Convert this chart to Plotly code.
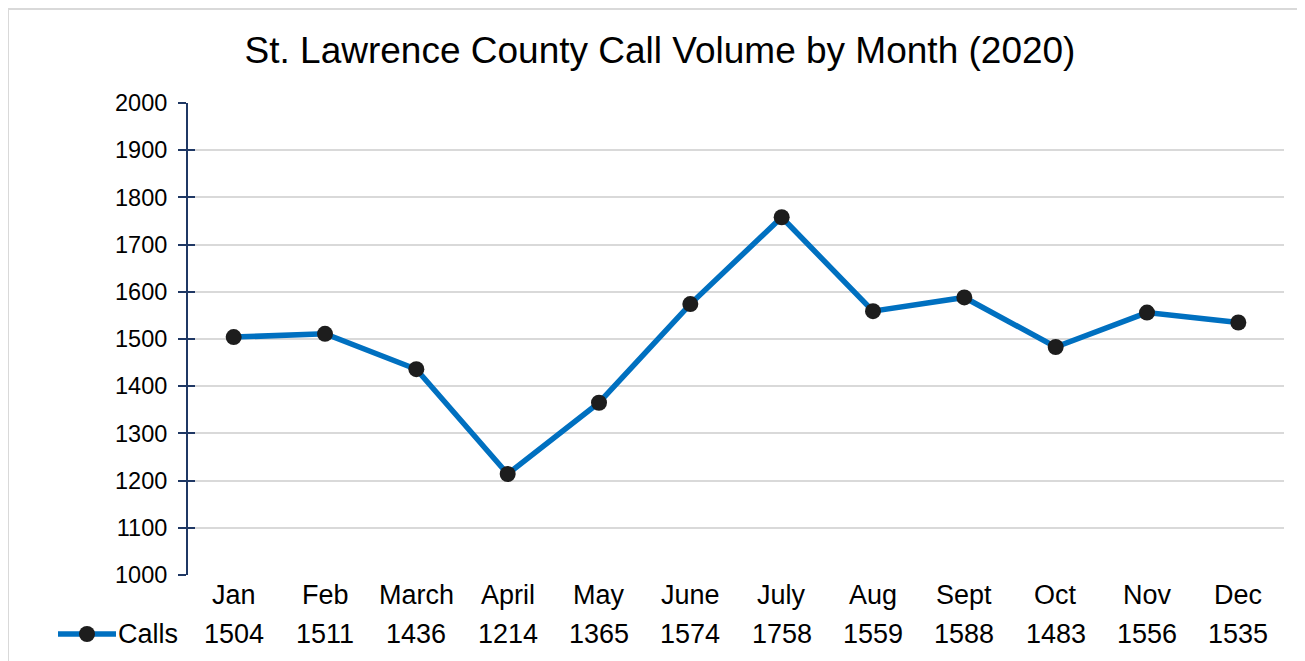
import plotly.graph_objects as go

months = ["Jan", "Feb", "March", "April", "May", "June", "July", "Aug", "Sept", "Oct", "Nov", "Dec"]
calls = [1504, 1511, 1436, 1214, 1365, 1574, 1758, 1559, 1588, 1483, 1556, 1535]
series_name = "Calls"
title_text = "St. Lawrence County Call Volume by Month (2020)"
y_ticks = list(range(1000, 2001, 100))

OFF = 8  # page body margin
W, H = 1297, 653
# plot area in page pixels: x 188..1284, y 103..575
L = 188 - OFF
T = 103 - OFF
R = W - (1284 - OFF)
B = H - (575 - OFF)
pw, ph = W - L - R, H - T - B

def px_x(p):  # page pixel -> paper x
    return (p - OFF - L) / pw

def px_y(p):  # page pixel -> paper y
    return (H - B - (p - OFF)) / ph

FONT = "Arial, Liberation Sans, sans-serif"
TBL = 27
LINE_COLOR = "#0070C0"
MARK_COLOR = "#1d1d1d"

fig = go.Figure()
fig.add_trace(go.Scatter(
    x=months, y=calls, mode="lines+markers", name=series_name,
    line=dict(color=LINE_COLOR, width=5.5),
    marker=dict(color=MARK_COLOR, size=16),
    showlegend=False,
))
# invisible trace on overlay axis to give crossing ticks
fig.add_trace(go.Scatter(x=months, y=calls, yaxis="y2", mode="lines",
                         line=dict(width=0), hoverinfo="skip", showlegend=False, opacity=0))

annotations = []
for m, v in zip(months, calls):
    annotations.append(dict(x=m, xref="x", y=px_y(595), yref="paper", text=m,
                            showarrow=False, font=dict(size=TBL, color="#000", family=FONT),
                            xanchor="center", yanchor="middle"))
    annotations.append(dict(x=m, xref="x", y=px_y(634), yref="paper", text=str(v),
                            showarrow=False, font=dict(size=TBL, color="#000", family=FONT),
                            xanchor="center", yanchor="middle"))
# data-table legend key label
annotations.append(dict(x=px_x(116), xref="paper", y=px_y(634), yref="paper", text=series_name,
                        showarrow=False, font=dict(size=TBL, color="#000", family=FONT),
                        xanchor="left", yanchor="middle"))

shapes = [
    dict(type="rect", xref="paper", yref="paper",
         x0=px_x(8), x1=px_x(1320), y0=px_y(700), y1=px_y(9),
         line=dict(color="#D9D9D9", width=2), fillcolor="rgba(0,0,0,0)", layer="below"),
    # legend key: line + marker
    dict(type="line", xref="paper", yref="paper",
         x0=px_x(58), x1=px_x(116), y0=px_y(634), y1=px_y(634),
         line=dict(color=LINE_COLOR, width=5.5)),
    dict(type="circle", xref="paper", yref="paper",
         x0=px_x(87 - 8), x1=px_x(87 + 8), y0=px_y(634 + 8), y1=px_y(634 - 8),
         line=dict(width=0), fillcolor=MARK_COLOR),
]

fig.update_layout(
    width=W, height=H,
    margin=dict(l=L, r=R, t=T, b=B, pad=0, autoexpand=False),
    paper_bgcolor="white", plot_bgcolor="white",
    font=dict(family=FONT, color="#000"),
    showlegend=False,
    title=dict(text=title_text, x=(660 - OFF) / W, xanchor="center",
               y=1 - (50 - OFF) / H, yanchor="middle",
               font=dict(size=37, color="#000", family=FONT)),
    xaxis=dict(type="category", showticklabels=False, showgrid=False, showline=False,
               ticks="", range=[-0.5, 11.5], zeroline=False),
    yaxis=dict(range=[1000, 2000], tickvals=y_ticks, ticktext=[str(t) for t in y_ticks],
               showgrid=True, gridcolor="#D9D9D9", gridwidth=2,
               showline=True, linecolor="#1F3864", linewidth=2,
               ticks="outside", ticklen=8, tickwidth=2, tickcolor="#1F3864",
               ticklabelstandoff=6,
               tickfont=dict(size=23.5, color="#000", family=FONT), zeroline=False),
    yaxis2=dict(range=[1000, 2000], overlaying="y", side="left", tickvals=y_ticks[1:],
                showticklabels=False, showgrid=False, showline=False,
                ticks="inside", ticklen=7, tickwidth=2, tickcolor="#1F3864", zeroline=False),
    annotations=annotations,
    shapes=shapes,
)

fig.write_html("out.html")
